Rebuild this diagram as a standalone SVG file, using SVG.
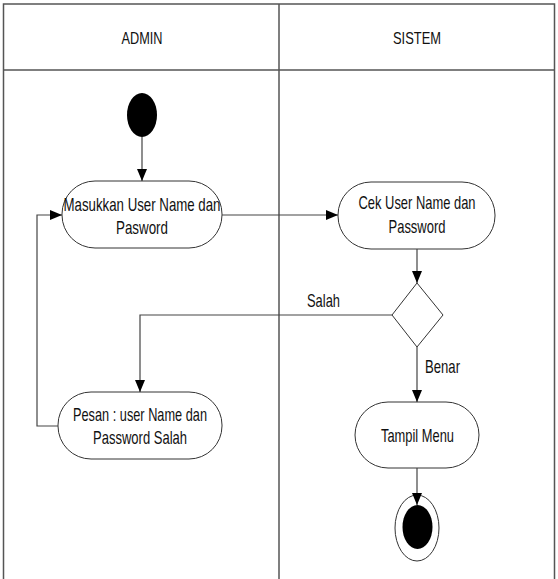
<svg xmlns="http://www.w3.org/2000/svg" width="558" height="579" viewBox="0 0 558 579">
<style>
.frame{fill:none;stroke:#555;stroke-width:1.5}
.node{fill:#fff;stroke:#333;stroke-width:1}
.conn{fill:none;stroke:#444;stroke-width:1.2;marker-end:url(#arr)}
text{font-family:"Liberation Sans",Arial,sans-serif;fill:#111;text-anchor:middle}
.hd{font-size:17px}
.tx{font-size:19px}
</style>
<defs>
<marker id="arr" markerUnits="userSpaceOnUse" markerWidth="12" markerHeight="10" refX="12" refY="5" orient="auto">
<path d="M0,0 L12,5 L0,10 z" fill="#000"/>
</marker>
</defs>
<rect width="558" height="579" fill="#fff"/>
<g id="lanes">
<path class="frame" d="M3.5,579 V4 H554.5 V579 M3.5,70 H554.5 M279,4 V579"/>
<text class="hd" x="142" y="44" textLength="41" lengthAdjust="spacingAndGlyphs">ADMIN</text>
<text class="hd" x="417" y="44" textLength="48" lengthAdjust="spacingAndGlyphs">SISTEM</text>
</g>
<g id="start">
<ellipse cx="142" cy="115" rx="15" ry="22" fill="#000"/>
</g>
<g id="masukkan">
<rect class="node" x="62" y="181" width="160" height="67" rx="33" ry="33"/>
<text class="tx" x="142" y="211" textLength="157" lengthAdjust="spacingAndGlyphs">Masukkan User Name dan</text>
<text class="tx" x="142" y="234" textLength="52" lengthAdjust="spacingAndGlyphs">Pasword</text>
</g>
<g id="cek">
<rect class="node" x="338" y="182" width="157" height="67" rx="33" ry="33"/>
<text class="tx" x="417" y="209" textLength="117" lengthAdjust="spacingAndGlyphs">Cek User Name dan</text>
<text class="tx" x="417" y="233" textLength="57" lengthAdjust="spacingAndGlyphs">Password</text>
</g>
<g id="decision">
<polygon class="node" points="417,283 443,315 417,347 392,315"/>
</g>
<g id="pesan">
<rect class="node" x="58" y="392" width="164" height="67" rx="33" ry="33"/>
<text class="tx" x="140" y="421" textLength="134" lengthAdjust="spacingAndGlyphs">Pesan : user Name dan</text>
<text class="tx" x="140" y="444" textLength="94" lengthAdjust="spacingAndGlyphs">Password Salah</text>
</g>
<g id="tampil">
<rect class="node" x="355" y="402" width="124" height="66" rx="33" ry="33"/>
<text class="tx" x="417.5" y="442" textLength="73" lengthAdjust="spacingAndGlyphs">Tampil Menu</text>
</g>
<g id="end">
<ellipse class="node" cx="417" cy="528" rx="22" ry="33"/>
<ellipse cx="417.5" cy="527" rx="15" ry="22" fill="#000"/>
</g>
<g id="connectors">
<path class="conn" d="M142,137 V181"/>
<path class="conn" d="M222,215 H338"/>
<path class="conn" d="M417,249 V283"/>
<path class="conn" d="M392,315 H140 V392"/>
<path class="conn" d="M417,347 V402"/>
<path class="conn" d="M58,426 H37 V215 H62"/>
<path class="conn" d="M417,468 V505"/>
<text class="tx" x="323.5" y="307" textLength="33" lengthAdjust="spacingAndGlyphs">Salah</text>
<text class="tx" x="442.5" y="373" textLength="35" lengthAdjust="spacingAndGlyphs">Benar</text>
</g>
</svg>
